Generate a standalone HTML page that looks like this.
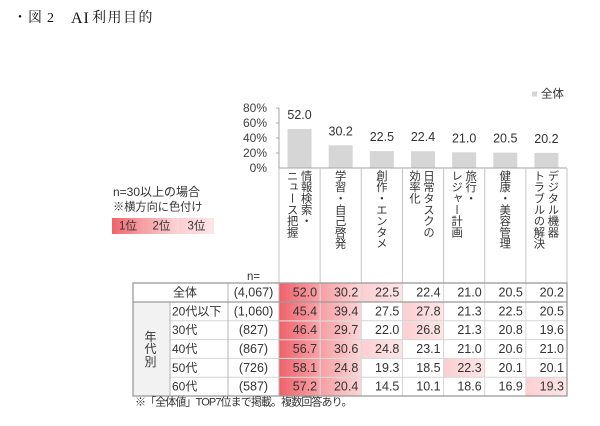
<!DOCTYPE html>
<html><head><meta charset="utf-8">
<style>
html,body{margin:0;padding:0;background:#fff;}
body{width:600px;height:426px;overflow:hidden;position:relative;font-family:"Liberation Sans","Noto Sans CJK JP",sans-serif;color:#333;}
.a{position:absolute;white-space:nowrap;}
.t{font-family:"Liberation Serif","Noto Serif CJK SC",serif;font-size:14px;line-height:14px;color:#111;top:11.5px;}
.vh{position:absolute;writing-mode:vertical-rl;font-size:11.3px;line-height:14px;top:170px;color:#333;white-space:nowrap;font-family:"Noto Sans CJK JP",sans-serif;}
</style></head><body>
<div class="a t" style="left:13px;">・</div>
<div class="a t" style="left:28px;">図</div>
<div class="a t" style="left:47px;">2</div>
<div class="a t" style="left:71px;font-size:16px;line-height:16px;top:10.5px;letter-spacing:1px;">AI</div>
<div class="a t" style="left:92px;letter-spacing:1.5px;">利用目的</div>

<svg width="600" height="426" style="position:absolute;left:0;top:0;" xmlns="http://www.w3.org/2000/svg" font-family="Liberation Sans, Noto Sans CJK JP, sans-serif">
<defs>
<linearGradient id="g1" x1="0" x2="1" y1="0" y2="0"><stop offset="0" stop-color="#ef626b"/><stop offset="1" stop-color="#f8a4a8"/></linearGradient>
<linearGradient id="g2" x1="0" x2="1" y1="0" y2="0"><stop offset="0" stop-color="#f59fa3"/><stop offset="1" stop-color="#fcd6d8"/></linearGradient>
<linearGradient id="g3" x1="0" x2="1" y1="0" y2="0"><stop offset="0" stop-color="#fbcfd2"/><stop offset="1" stop-color="#fde6e7"/></linearGradient>
</defs>
<rect x="532" y="91.5" width="5" height="5" fill="#d6d6d6"/>
<text x="541" y="94.5" font-size="11.5" dominant-baseline="central" fill="#333">全体</text>
<g font-size="12" fill="#404040" text-anchor="end" dominant-baseline="central">
<text x="267" y="108">80%</text><text x="267" y="123">60%</text><text x="267" y="138">40%</text><text x="267" y="153">20%</text><text x="267" y="168">0%</text>
</g>
<line x1="279" y1="108" x2="279" y2="168" stroke="#a6a6a6" stroke-width="1"/>
<g stroke="#a6a6a6"><line x1="276" y1="108" x2="279" y2="108"/><line x1="276" y1="123" x2="279" y2="123"/><line x1="276" y1="138" x2="279" y2="138"/><line x1="276" y1="153" x2="279" y2="153"/></g>
<g fill="#d6d6d6">
<rect x="287.57" y="129" width="24" height="39"/>
<rect x="328.71" y="145.35" width="24" height="22.65"/>
<rect x="369.86" y="151.13" width="24" height="16.87"/>
<rect x="411" y="151.2" width="24" height="16.8"/>
<rect x="452.14" y="152.25" width="24" height="15.75"/>
<rect x="493.29" y="152.63" width="24" height="15.37"/>
<rect x="534.43" y="152.85" width="24" height="15.15"/>
</g>
<g font-size="12.5" fill="#333" text-anchor="middle" dominant-baseline="central">
<text x="299.57" y="115">52.0</text>
<text x="340.71" y="131.4">30.2</text>
<text x="381.86" y="137.1">22.5</text>
<text x="423" y="137.2">22.4</text>
<text x="464.14" y="138.3">21.0</text>
<text x="505.29" y="138.6">20.5</text>
<text x="546.43" y="138.9">20.2</text>
</g>
<line x1="279" y1="168" x2="567" y2="168" stroke="#a6a6a6"/>
<g stroke="#c4c4c4">
<line x1="279" y1="168" x2="279" y2="283"/><line x1="320.14" y1="168" x2="320.14" y2="283"/><line x1="361.29" y1="168" x2="361.29" y2="283"/><line x1="402.43" y1="168" x2="402.43" y2="283"/><line x1="443.57" y1="168" x2="443.57" y2="283"/><line x1="484.71" y1="168" x2="484.71" y2="283"/><line x1="525.86" y1="168" x2="525.86" y2="283"/><line x1="567" y1="168" x2="567" y2="283"/>
</g>
<text x="113" y="192" font-size="12" dominant-baseline="central" fill="#333">n=30以上の場合</text>
<text x="113" y="207.5" font-size="11.2" dominant-baseline="central" fill="#333">※横方向に色付け</text>
<rect x="112" y="218" width="32" height="16" fill="url(#g1)"/>
<rect x="144" y="218" width="35" height="16" fill="url(#g2)"/>
<rect x="179" y="218" width="35" height="16" fill="url(#g3)"/>
<g font-size="11.5" text-anchor="middle" dominant-baseline="central" fill="#333">
<text x="128" y="226.5">1位</text><text x="161.5" y="226.5">2位</text><text x="196.5" y="226.5">3位</text>
</g>
<text x="247" y="277" font-size="11.5" dominant-baseline="central" fill="#333">n=</text>
<rect x="133" y="302" width="37" height="94" fill="#f2f2f2"/>
<g>
<rect x="279.5" y="283.5" width="40.6" height="18.5" fill="url(#g1)"/>
<rect x="279.5" y="302.5" width="40.6" height="18.3" fill="url(#g1)"/>
<rect x="279.5" y="321.3" width="40.6" height="18.3" fill="url(#g1)"/>
<rect x="279.5" y="340.1" width="40.6" height="18.3" fill="url(#g1)"/>
<rect x="279.5" y="358.9" width="40.6" height="18.3" fill="url(#g1)"/>
<rect x="279.5" y="377.7" width="40.6" height="18.3" fill="url(#g1)"/>
<rect x="320.6" y="283.5" width="40.6" height="18.5" fill="url(#g2)"/>
<rect x="320.6" y="302.5" width="40.6" height="18.3" fill="url(#g2)"/>
<rect x="320.6" y="321.3" width="40.6" height="18.3" fill="url(#g2)"/>
<rect x="320.6" y="340.1" width="40.6" height="18.3" fill="url(#g2)"/>
<rect x="320.6" y="358.9" width="40.6" height="18.3" fill="url(#g2)"/>
<rect x="320.6" y="377.7" width="40.6" height="18.3" fill="url(#g2)"/>
<rect x="361.8" y="283.5" width="40.6" height="18.5" fill="url(#g3)"/>
<rect x="402.9" y="302.5" width="40.6" height="18.3" fill="url(#g3)"/>
<rect x="402.9" y="321.3" width="40.6" height="18.3" fill="url(#g3)"/>
<rect x="361.8" y="340.1" width="40.6" height="18.3" fill="url(#g3)"/>
<rect x="444" y="358.9" width="40.6" height="18.3" fill="url(#g3)"/>
<rect x="526.3" y="377.7" width="40.6" height="18.3" fill="url(#g3)"/>
</g>
<g stroke="#d6d6d6">
<line x1="170" y1="320.8" x2="567" y2="320.8"/><line x1="170" y1="339.6" x2="567" y2="339.6"/><line x1="170" y1="358.4" x2="567" y2="358.4"/><line x1="170" y1="377.2" x2="567" y2="377.2"/>
<line x1="320.14" y1="283" x2="320.14" y2="396"/><line x1="361.29" y1="283" x2="361.29" y2="396"/><line x1="402.43" y1="283" x2="402.43" y2="396"/><line x1="443.57" y1="283" x2="443.57" y2="396"/><line x1="484.71" y1="283" x2="484.71" y2="396"/><line x1="525.86" y1="283" x2="525.86" y2="396"/>
</g>
<g stroke="#b4b4b4">
<line x1="170" y1="302" x2="170" y2="396"/><line x1="228" y1="283" x2="228" y2="396"/><line x1="279" y1="283" x2="279" y2="396"/>
</g>
<line x1="133" y1="302" x2="567" y2="302" stroke="#9a9a9a" stroke-width="1.3"/>
<rect x="133" y="283" width="434" height="113" fill="none" stroke="#9a9a9a" stroke-width="1.3"/>
<g font-size="12" fill="#333" dominant-baseline="central">
<text x="173" y="292.5">全体</text>
<text x="172" y="311.4">20代以下</text>
<text x="172" y="330.2">30代</text>
<text x="172" y="349">40代</text>
<text x="172" y="367.8">50代</text>
<text x="172" y="386.6">60代</text>
</g>
<g font-size="12.5" fill="#333" dominant-baseline="central" text-anchor="middle">
<text x="253.5" y="292.5">(4,067)</text>
<text x="253.5" y="311.4">(1,060)</text>
<text x="253.5" y="330.2">(827)</text>
<text x="253.5" y="349">(867)</text>
<text x="253.5" y="367.8">(726)</text>
<text x="253.5" y="386.6">(587)</text>
</g>
<g font-size="12.5" fill="#333" dominant-baseline="central" text-anchor="end">
<text x="317.1" y="292.5">52.0</text><text x="358.3" y="292.5">30.2</text><text x="399.4" y="292.5">22.5</text><text x="440.6" y="292.5">22.4</text><text x="481.7" y="292.5">21.0</text><text x="522.9" y="292.5">20.5</text><text x="564" y="292.5">20.2</text>
<text x="317.1" y="311.4">45.4</text><text x="358.3" y="311.4">39.4</text><text x="399.4" y="311.4">27.5</text><text x="440.6" y="311.4">27.8</text><text x="481.7" y="311.4">21.3</text><text x="522.9" y="311.4">22.5</text><text x="564" y="311.4">20.5</text>
<text x="317.1" y="330.2">46.4</text><text x="358.3" y="330.2">29.7</text><text x="399.4" y="330.2">22.0</text><text x="440.6" y="330.2">26.8</text><text x="481.7" y="330.2">21.3</text><text x="522.9" y="330.2">20.8</text><text x="564" y="330.2">19.6</text>
<text x="317.1" y="349">56.7</text><text x="358.3" y="349">30.6</text><text x="399.4" y="349">24.8</text><text x="440.6" y="349">23.1</text><text x="481.7" y="349">21.0</text><text x="522.9" y="349">20.6</text><text x="564" y="349">21.0</text>
<text x="317.1" y="367.8">58.1</text><text x="358.3" y="367.8">24.8</text><text x="399.4" y="367.8">19.3</text><text x="440.6" y="367.8">18.5</text><text x="481.7" y="367.8">22.3</text><text x="522.9" y="367.8">20.1</text><text x="564" y="367.8">20.1</text>
<text x="317.1" y="386.6">57.2</text><text x="358.3" y="386.6">20.4</text><text x="399.4" y="386.6">14.5</text><text x="440.6" y="386.6">10.1</text><text x="481.7" y="386.6">18.6</text><text x="522.9" y="386.6">16.9</text><text x="564" y="386.6">19.3</text>
</g>
<text x="135" y="402.5" font-size="11" dominant-baseline="central" fill="#333" letter-spacing="-0.9">※「全体値」TOP7位まで掲載。複数回答あり。</text>
</svg>

<div class="a" style="left:132px;width:37px;top:330.5px;font-size:12px;line-height:12.5px;text-align:center;color:#333;font-family:'Noto Sans CJK JP',sans-serif;">年<br>代<br>別</div>

<div class="vh" style="left:285.6px;">情報検索・<br>ニュース把握</div>
<div class="vh" style="left:333.7px;">学習・自己啓発</div>
<div class="vh" style="left:374.9px;">創作・エンタメ</div>
<div class="vh" style="left:408px;">日常タスクの<br>効率化</div>
<div class="vh" style="left:450.1px;">旅行・<br>レジャー計画</div>
<div class="vh" style="left:498.3px;">健康・美容管理</div>
<div class="vh" style="left:532.4px;">デジタル機器<br>トラブルの解決</div>
</body></html>
